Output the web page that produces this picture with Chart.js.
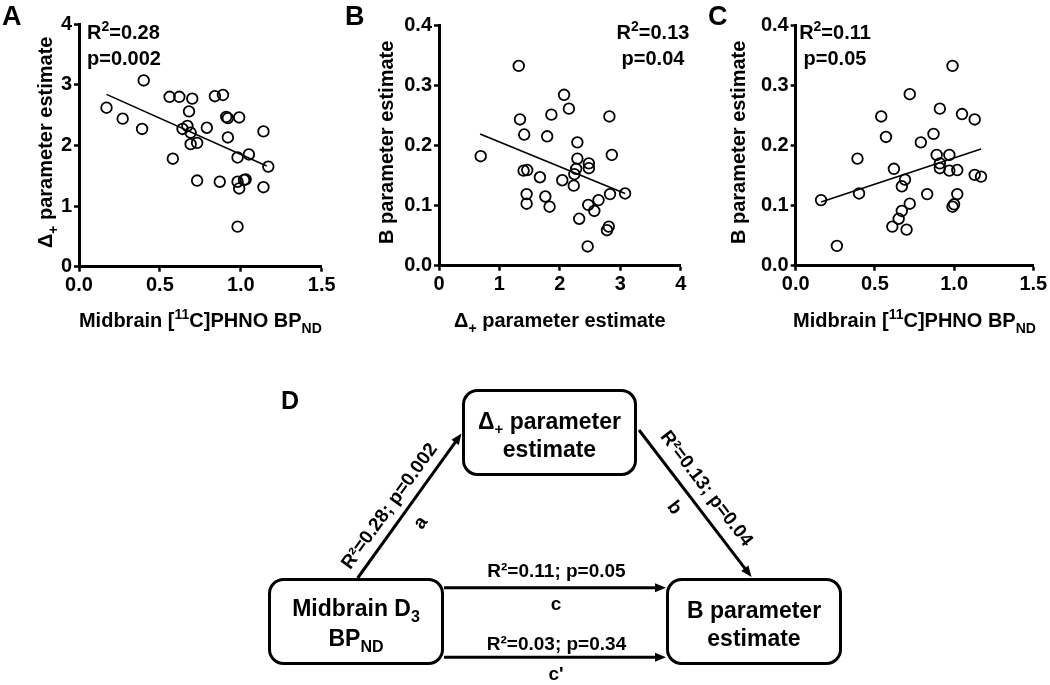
<!DOCTYPE html>
<html>
<head>
<meta charset="utf-8">
<script src="https://cdn.jsdelivr.net/npm/chart.js@4.4.0/dist/chart.umd.min.js"></script>
<style>
  body { margin: 0; background: #fff; }
  #fig { position: relative; width: 1050px; height: 685px; background: #fff; overflow: hidden; }
  #fig canvas { position: absolute; top: 0; }
  #diagram { position: absolute; left: 0; top: 0; }
  #diagram text { font-family: "Liberation Sans", Arial, sans-serif; font-weight: bold; fill: #000; }
</style>
</head>
<body>
<div id="fig">
  <canvas id="chartA" width="345" height="345" style="left:0px"></canvas>
  <canvas id="chartB" width="350" height="345" style="left:345px"></canvas>
  <canvas id="chartC" width="355" height="345" style="left:695px"></canvas>
  <svg id="diagram" width="1050" height="685"></svg>
</div>
<script>
// panel A: midbrain BPND vs delta+ estimate
const midbrainA = [0.17, 0.27, 0.40, 0.39, 0.56, 0.62, 0.70, 0.68, 0.67, 0.64, 0.69, 0.69, 0.73, 0.58, 0.73, 0.79, 0.84,
                   0.89, 0.91, 0.92, 0.92, 0.87, 0.99, 0.98, 1.05, 0.98, 0.99, 1.02, 1.03, 0.98, 1.14, 1.14, 1.17];
const deltaA = [2.62, 2.44, 3.07, 2.27, 2.80, 2.80, 2.77, 2.56, 2.32, 2.27, 2.21, 2.02, 2.04, 1.78, 1.42, 2.29, 2.81,
                2.83, 2.47, 2.45, 2.13, 1.40, 2.46, 1.80, 1.85, 1.40, 1.29, 1.43, 1.44, 0.66, 2.23, 1.31, 1.65];
const fitAX = [0.17, 1.16];
const fitAY = [2.84, 1.66];

// panel B: delta+ estimate vs B estimate
const deltaB = [0.69, 1.32, 1.34, 1.41, 1.40, 1.46, 1.45, 1.45, 1.67, 1.76, 1.83, 1.79, 1.86, 2.07, 2.15, 2.04, 2.29,
                2.29, 2.27, 2.24, 2.23, 2.32, 2.48, 2.48, 2.47, 2.57, 2.64, 2.46, 2.82, 2.86, 2.83, 2.81, 2.78, 3.08];
const bB = [0.182, 0.332, 0.243, 0.218, 0.158, 0.159, 0.119, 0.103, 0.147, 0.115, 0.098, 0.215, 0.251, 0.284, 0.261,
            0.142, 0.205, 0.178, 0.161, 0.152, 0.133, 0.078, 0.170, 0.162, 0.101, 0.091, 0.109, 0.032, 0.248, 0.184,
            0.119, 0.065, 0.059, 0.120];
const fitBX = [0.68, 3.08];
const fitBY = [0.219, 0.120];

// panel C: midbrain BPND vs B estimate
const midbrainC = [0.16, 0.26, 0.39, 0.40, 0.54, 0.57, 0.62, 0.61, 0.65, 0.67, 0.67, 0.69, 0.70, 0.72, 0.72, 0.79, 0.83,
                   0.87, 0.89, 0.91, 0.91, 0.91, 0.97, 0.97, 0.99, 0.99, 1.00, 1.02, 1.02, 1.05, 1.13, 1.13, 1.17];
const bC = [0.109, 0.033, 0.178, 0.120, 0.248, 0.214, 0.161, 0.065, 0.078, 0.091, 0.132, 0.143, 0.060, 0.103, 0.285,
            0.205, 0.119, 0.219, 0.184, 0.261, 0.170, 0.162, 0.184, 0.158, 0.332, 0.098, 0.102, 0.159, 0.119, 0.252,
            0.243, 0.151, 0.148];
const fitCX = [0.16, 1.17];
const fitCY = [0.106, 0.194];

const ticksBP = [0, 0.5, 1.0, 1.5];
const ticksDelta = [0, 1, 2, 3, 4];
const ticksB = [0, 0.1, 0.2, 0.3, 0.4];

const FONT = '"Liberation Sans", Arial, sans-serif';

// draw a line of text with sub / superscript parts
function richText(ctx, parts, x, y, size, align) {
  const fontFor = k => `bold ${k === 'n' ? size : Math.round(size * 0.72)}px ${FONT}`;
  let w = 0;
  parts.forEach(([t, k]) => { ctx.font = fontFor(k); w += ctx.measureText(t).width; });
  let cx = align === 'center' ? x - w / 2 : align === 'right' ? x - w : x;
  ctx.textAlign = 'left';
  ctx.textBaseline = 'alphabetic';
  ctx.fillStyle = '#000';
  parts.forEach(([t, k]) => {
    ctx.font = fontFor(k);
    const dy = k === 'sub' ? size * 0.3 : k === 'sup' ? -size * 0.38 : 0;
    ctx.fillText(t, cx, y + dy);
    cx += ctx.measureText(t).width;
  });
}

const titleBP = [['Midbrain [', 'n'], ['11', 'sup'], ['C]PHNO BP', 'n'], ['ND', 'sub']];
const titleDelta = [['\u0394', 'n'], ['+', 'sub'], [' parameter estimate', 'n']];
const titleB = [['B parameter estimate', 'n']];

function panel(id, o) {
  const annot = {
    id: 'annot',
    afterDraw(chart) {
      const ctx = chart.ctx;
      const a = chart.chartArea;
      ctx.save();
      richText(ctx, [[o.letter, 'n']], o.letterX, 25, 27, 'left');
      richText(ctx, [['R', 'n'], ['2', 'sup'], ['=' + o.r2, 'n']], o.statX, 38.5, 20, o.statAlign);
      richText(ctx, [['p=' + o.p, 'n']], o.statX, 64.5, 20, o.statAlign);
      richText(ctx, o.xTitle, (a.left + a.right) / 2, 326.5, 20, 'center');
      ctx.translate(a.left - o.yTitleGap, (a.top + a.bottom) / 2 - 3);
      ctx.rotate(-Math.PI / 2);
      richText(ctx, o.yTitle, 0, 0, 20, 'center');
      ctx.restore();
    }
  };
  const axis = (ticks, fmt, fit) => ({
    type: 'linear',
    min: ticks[0],
    max: ticks[ticks.length - 1],
    afterBuildTicks: s => { s.ticks = ticks.map(v => ({ value: v })); },
    afterFit: fit,
    grid: { drawOnChartArea: false, drawTicks: true, tickLength: 5, tickWidth: 2.5, color: '#000' },
    border: { display: true, color: '#000', width: 3 },
    ticks: { color: '#000', padding: 2, font: { family: FONT, size: 20, weight: 'bold' }, callback: v => fmt(v), maxRotation: 0 }
  });
  const H = 345;
  return new Chart(document.getElementById(id), {
    type: 'scatter',
    data: {
      datasets: [
        {
          data: o.x.map((v, i) => ({ x: v, y: o.y[i] })),
          pointRadius: 5.3, pointHoverRadius: 5.3, pointBorderWidth: 1.8,
          borderColor: '#000', backgroundColor: 'rgba(0,0,0,0)'
        },
        {
          type: 'line',
          data: o.fitX.map((v, i) => ({ x: v, y: o.fitY[i] })),
          borderColor: '#000', borderWidth: 1.6, pointRadius: 0, fill: false
        }
      ]
    },
    options: {
      responsive: false, animation: false, devicePixelRatio: 1,
      layout: { padding: { left: 0, top: o.top, right: o.right, bottom: 0 } },
      plugins: { legend: { display: false }, tooltip: { enabled: false } },
      scales: {
        x: axis(o.xTicks, o.xFmt, s => { s.height = H - o.bottom; }),
        y: axis(o.yTicks, o.yFmt, s => { s.width = o.left; })
      }
    },
    plugins: [annot]
  });
}

const f1 = v => v.toFixed(1);
const f0 = v => v.toFixed(0);

panel('chartA', {
  x: midbrainA, y: deltaA, fitX: fitAX, fitY: fitAY,
  xTicks: ticksBP, yTicks: ticksDelta, xFmt: f1, yFmt: f0,
  left: 79, top: 24, right: 345 - 321.7, bottom: 266.7,
  letter: 'A', letterX: 2, r2: '0.28', p: '0.002', statX: 87, statAlign: 'left',
  xTitle: titleBP, yTitle: titleDelta, yTitleGap: 27
});
panel('chartB', {
  x: deltaB, y: bB, fitX: fitBX, fitY: fitBY,
  xTicks: ticksDelta, yTicks: ticksB, xFmt: f0, yFmt: f1,
  left: 94, top: 25, right: 350 - 335.7, bottom: 265.7,
  letter: 'B', letterX: 0, r2: '0.13', p: '0.04', statX: 308, statAlign: 'center',
  xTitle: titleDelta, yTitle: titleB, yTitleGap: 46
});
panel('chartC', {
  x: midbrainC, y: bC, fitX: fitCX, fitY: fitCY,
  xTicks: ticksBP, yTicks: ticksB, xFmt: f1, yFmt: f1,
  left: 100.7, top: 25, right: 355 - 338.3, bottom: 265.7,
  letter: 'C', letterX: 13, r2: '0.11', p: '0.05', statX: 140, statAlign: 'center',
  xTitle: titleBP, yTitle: titleB, yTitleGap: 51
});

// panel D: mediation diagram
const svg = document.getElementById('diagram');
const NS = 'http://www.w3.org/2000/svg';
function el(tag, attrs, text) {
  const e = document.createElementNS(NS, tag);
  for (const k in attrs) e.setAttribute(k, attrs[k]);
  if (text !== undefined) e.innerHTML = text;
  svg.appendChild(e);
  return e;
}
function box(x1, y1, x2, y2) {
  el('rect', { x: x1 + 1.5, y: y1 + 1.5, width: x2 - x1 - 3, height: y2 - y1 - 3, rx: 14, ry: 14,
               fill: '#fff', stroke: '#000', 'stroke-width': 3 });
}
function arrow(x1, y1, x2, y2) {
  const len = Math.hypot(x2 - x1, y2 - y1);
  const ux = (x2 - x1) / len, uy = (y2 - y1) / len;
  const hl = 11, hw = 4.5;
  el('line', { x1, y1, x2: x2 - ux * (hl - 2), y2: y2 - uy * (hl - 2), stroke: '#000', 'stroke-width': 3 });
  const bx = x2 - ux * hl, by = y2 - uy * hl;
  el('polygon', { points: `${x2},${y2} ${bx - uy * hw},${by + ux * hw} ${bx + uy * hw},${by - ux * hw}`, fill: '#000' });
}
function label(x, y, size, html, rot) {
  const attrs = { x, y, 'font-size': size, 'text-anchor': 'middle' };
  if (rot) attrs.transform = `rotate(${rot} ${x} ${y})`;
  return el('text', attrs, html);
}

el('text', { x: 281, y: 409, 'font-size': 25 }, 'D');

arrow(357.7, 578, 461.5, 433.5);
arrow(639, 430, 751.5, 577);
arrow(444, 587.7, 666, 587.7);
arrow(444, 657.3, 666, 657.3);

box(462, 389, 637, 476);
box(268, 578, 444, 665);
box(666, 578, 842, 665);

label(549.5, 429, 23, '\u0394<tspan font-size="15" dy="5">+</tspan><tspan dy="-5"> parameter</tspan>');
label(549.5, 457, 23, 'estimate');
label(356, 616, 23, 'Midbrain D<tspan font-size="16" dy="6">3</tspan>');
label(356, 646, 23, 'BP<tspan font-size="16" dy="6">ND</tspan>');
label(754, 618, 23, 'B parameter');
label(754, 646, 23, 'estimate');

label(556.5, 577, 19, 'R\u00b2=0.11; p=0.05');
label(556, 610, 19, 'c');
label(556.5, 650, 19, 'R\u00b2=0.03; p=0.34');
label(556, 680, 19, "c'");

label(394, 509.5, 19, 'R\u00b2=0.28; p=0.002', -54.2);
label(425, 526, 19, 'a', -54.2);
label(702, 492, 19, 'R\u00b2=0.13; p=0.04', 52.6);
label(670, 511, 19, 'b', 52.6);
</script>
</body>
</html>
